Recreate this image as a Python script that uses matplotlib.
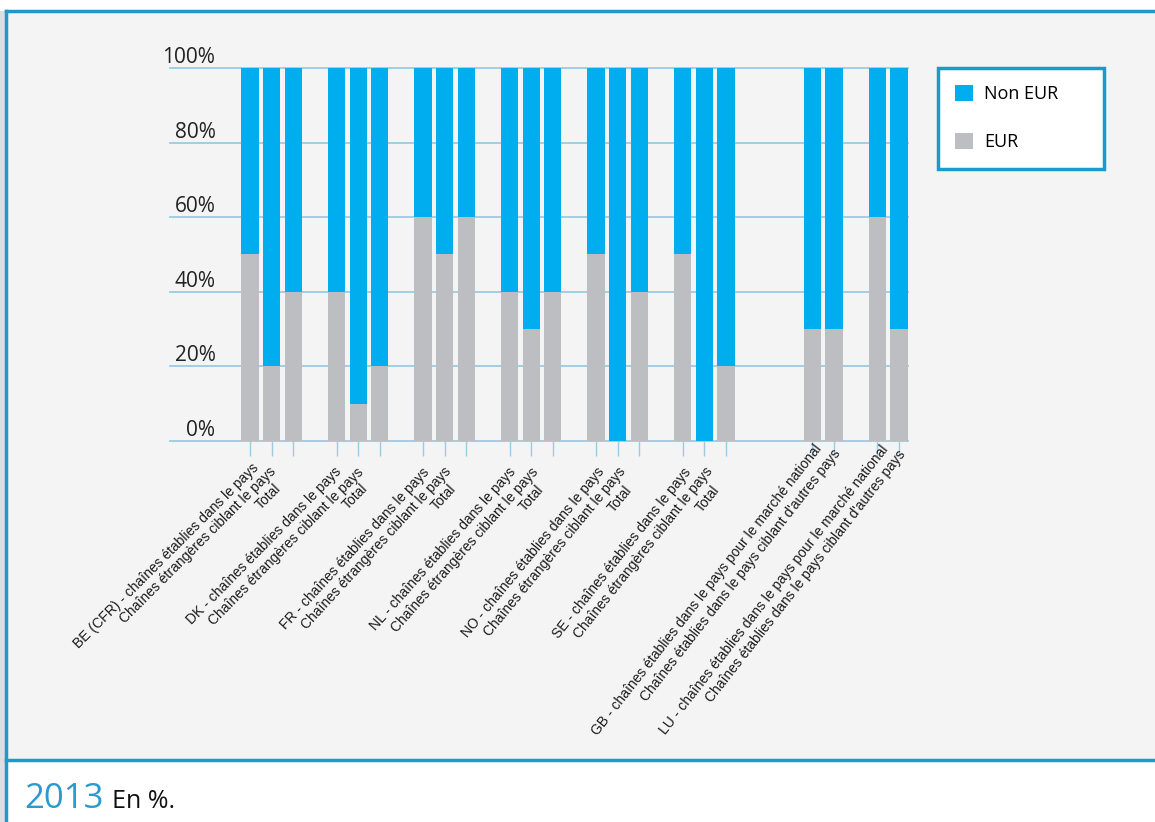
import numpy as np
import matplotlib.pyplot as plt
from matplotlib.patches import Rectangle
from matplotlib.lines import Line2D
from matplotlib.font_manager import FontProperties
from matplotlib import transforms

# EUR / Non EUR share of channels, in %
groups = ["BE (CFR)", "DK", "FR", "NL", "NO", "SE", "GB", "LU"]
group_sizes = [3, 3, 3, 3, 3, 3, 2, 2]
group_gaps = [0, 1, 1, 1, 1, 1, 3, 1]  # empty slots before each group
group_angles = [45, 45.5, 47.5, 48.5, 50.5, 51.5, 52, 52]  # label slant per group
group_pads = [15, 15, 15, 15, 15, 15, 2, 3]  # label distance below axis, px

labels = [
    "BE (CFR) - chaînes établies dans le pays", "Chaînes étrangères ciblant le pays", "Total",
    "DK - chaînes établies dans le pays", "Chaînes étrangères ciblant le pays", "Total",
    "FR - chaînes établies dans le pays", "Chaînes étrangères ciblant le pays", "Total",
    "NL - chaînes établies dans le pays", "Chaînes étrangères ciblant le pays", "Total",
    "NO - chaînes établies dans le pays", "Chaînes étrangères ciblant le pays", "Total",
    "SE - chaînes établies dans le pays", "Chaînes étrangères ciblant le pays", "Total",
    "GB - chaînes établies dans le pays pour le marché national",
    "Chaînes établies dans le pays ciblant d'autres pays",
    "LU - chaînes établies dans le pays pour le marché national",
    "Chaînes établies dans le pays ciblant d'autres pays",
]
eur = [50, 20, 40, 40, 10, 20, 60, 50, 60, 40, 30, 40,
       50, 0, 40, 50, 0, 20, 30, 30, 60, 30]
non_eur = [50, 80, 60, 60, 90, 80, 40, 50, 40, 60, 70, 60,
           50, 100, 60, 50, 100, 80, 70, 70, 40, 70]
yticks = [0, 20, 40, 60, 80, 100]

BLUE = "#00aeef"
GREY = "#bdbec1"
FRAME = "#1d9acb"
GRID = "#9ccbe2"

W, H = 1155, 822
fig = plt.figure(figsize=(W / 100, H / 100), dpi=100)
fig.patch.set_facecolor("white")

def fx(px):
    return px / W

def fy(py):
    return 1 - py / H

# panel background, shadow and frame lines
fig.patches.append(Rectangle((fx(7), fy(760)), 1 - fx(7), fy(11) - fy(760),
                             transform=fig.transFigure, facecolor="#f4f4f4",
                             edgecolor="none", zorder=-2))
fig.patches.append(Rectangle((0, 0), fx(5), fy(11), transform=fig.transFigure,
                             facecolor="#dedede", edgecolor="none", zorder=-2))
fig.add_artist(Line2D([fx(6), 1], [fy(11), fy(11)], color=FRAME, lw=2.5))
fig.add_artist(Line2D([fx(6), fx(6)], [0, fy(11)], color=FRAME, lw=2.5))
fig.add_artist(Line2D([fx(6), 1], [fy(760), fy(760)], color=FRAME, lw=2.5))

# bar slot positions, label angles and pads
pos = []
angles = []
pads = []
slot = -1
for size, gap, ang, pad in zip(group_sizes, group_gaps, group_angles, group_pads):
    slot += gap
    for k in range(size):
        slot += 1
        pos.append(slot)
        angles.append(ang)
        pads.append(pad)
pos = np.array(pos)

ax = fig.add_axes([fx(170), fy(441), fx(908) - fx(170), fy(68) - fy(441)])
ax.set_facecolor("none")
ax.bar(pos, eur, width=0.8, color=GREY, zorder=2)
ax.bar(pos, non_eur, bottom=eur, width=0.8, color=BLUE, zorder=2)
ax.set_xlim(-3.7, 30.42)
ax.set_ylim(0, 100)
for s in ax.spines.values():
    s.set_visible(False)

ax.set_yticks(yticks)
ax.yaxis.grid(True, color=GRID, lw=1.3)
ax.set_axisbelow(True)
for gl in ax.get_ygridlines():
    gl.set_clip_on(False)
ax.tick_params(axis="y", length=0, labelleft=False)

ax.set_xticks(pos)
ax.set_xticklabels([])
ax.tick_params(axis="x", length=11, width=1, color=GRID)

# y labels sit above their grid lines
ylab_tr = transforms.offset_copy(ax.transData, fig=fig, x=0, y=5, units="dots")
for v in yticks:
    ax.text(-1.6, v, f"{v}%", ha="right", va="baseline", fontsize=15,
            family="Open Sans", color="#222222", transform=ylab_tr)

# rotated category labels, shorter ones pushed back along the text line
fp = FontProperties(family="Liberation Sans", size=10)
renderer = fig.canvas.get_renderer()
for x, lab, ang, pad in zip(pos, labels, angles, pads):
    L, _, _ = renderer.get_text_width_height_descent(lab, fp, ismath=False)
    s = min(0.0, -46 + 0.128 * L)
    a = np.radians(ang)
    dx = pad * np.sin(a) + s * np.cos(a)
    dy = -pad * np.cos(a) + s * np.sin(a)
    tr = transforms.offset_copy(ax.get_xaxis_transform(), fig=fig,
                                x=dx, y=dy, units="dots")
    ax.text(x, 0, lab, rotation=ang, rotation_mode="anchor", ha="right",
            va="top", fontproperties=fp, color="#1a1a1a", transform=tr,
            clip_on=False)

handles = [Rectangle((0, 0), 1, 1, facecolor=BLUE),
           Rectangle((0, 0), 1, 1, facecolor=GREY)]
leg = fig.legend(handles, ["Non EUR", "EUR"], loc="upper left",
                 bbox_to_anchor=(fx(938), fy(68), fx(1104) - fx(938), 0.0),
                 mode="expand", borderaxespad=0, fancybox=False,
                 prop={"family": "Open Sans", "size": 13},
                 handlelength=1.0, handleheight=1.0, handletextpad=0.6,
                 labelspacing=1.65, borderpad=0.95)
leg.get_frame().set_edgecolor(FRAME)
leg.get_frame().set_linewidth(2.5)
leg.get_frame().set_facecolor("white")
leg.get_frame().set_alpha(1)

fig.text(fx(24), fy(808), "2013", fontsize=25, family="Open Sans",
         color="#2a9bcc", va="baseline")
fig.text(fx(112), fy(808), "En %.", fontsize=18, family="Open Sans",
         color="#111111", va="baseline")

fig.savefig("out.png", dpi=100, facecolor=fig.get_facecolor())
